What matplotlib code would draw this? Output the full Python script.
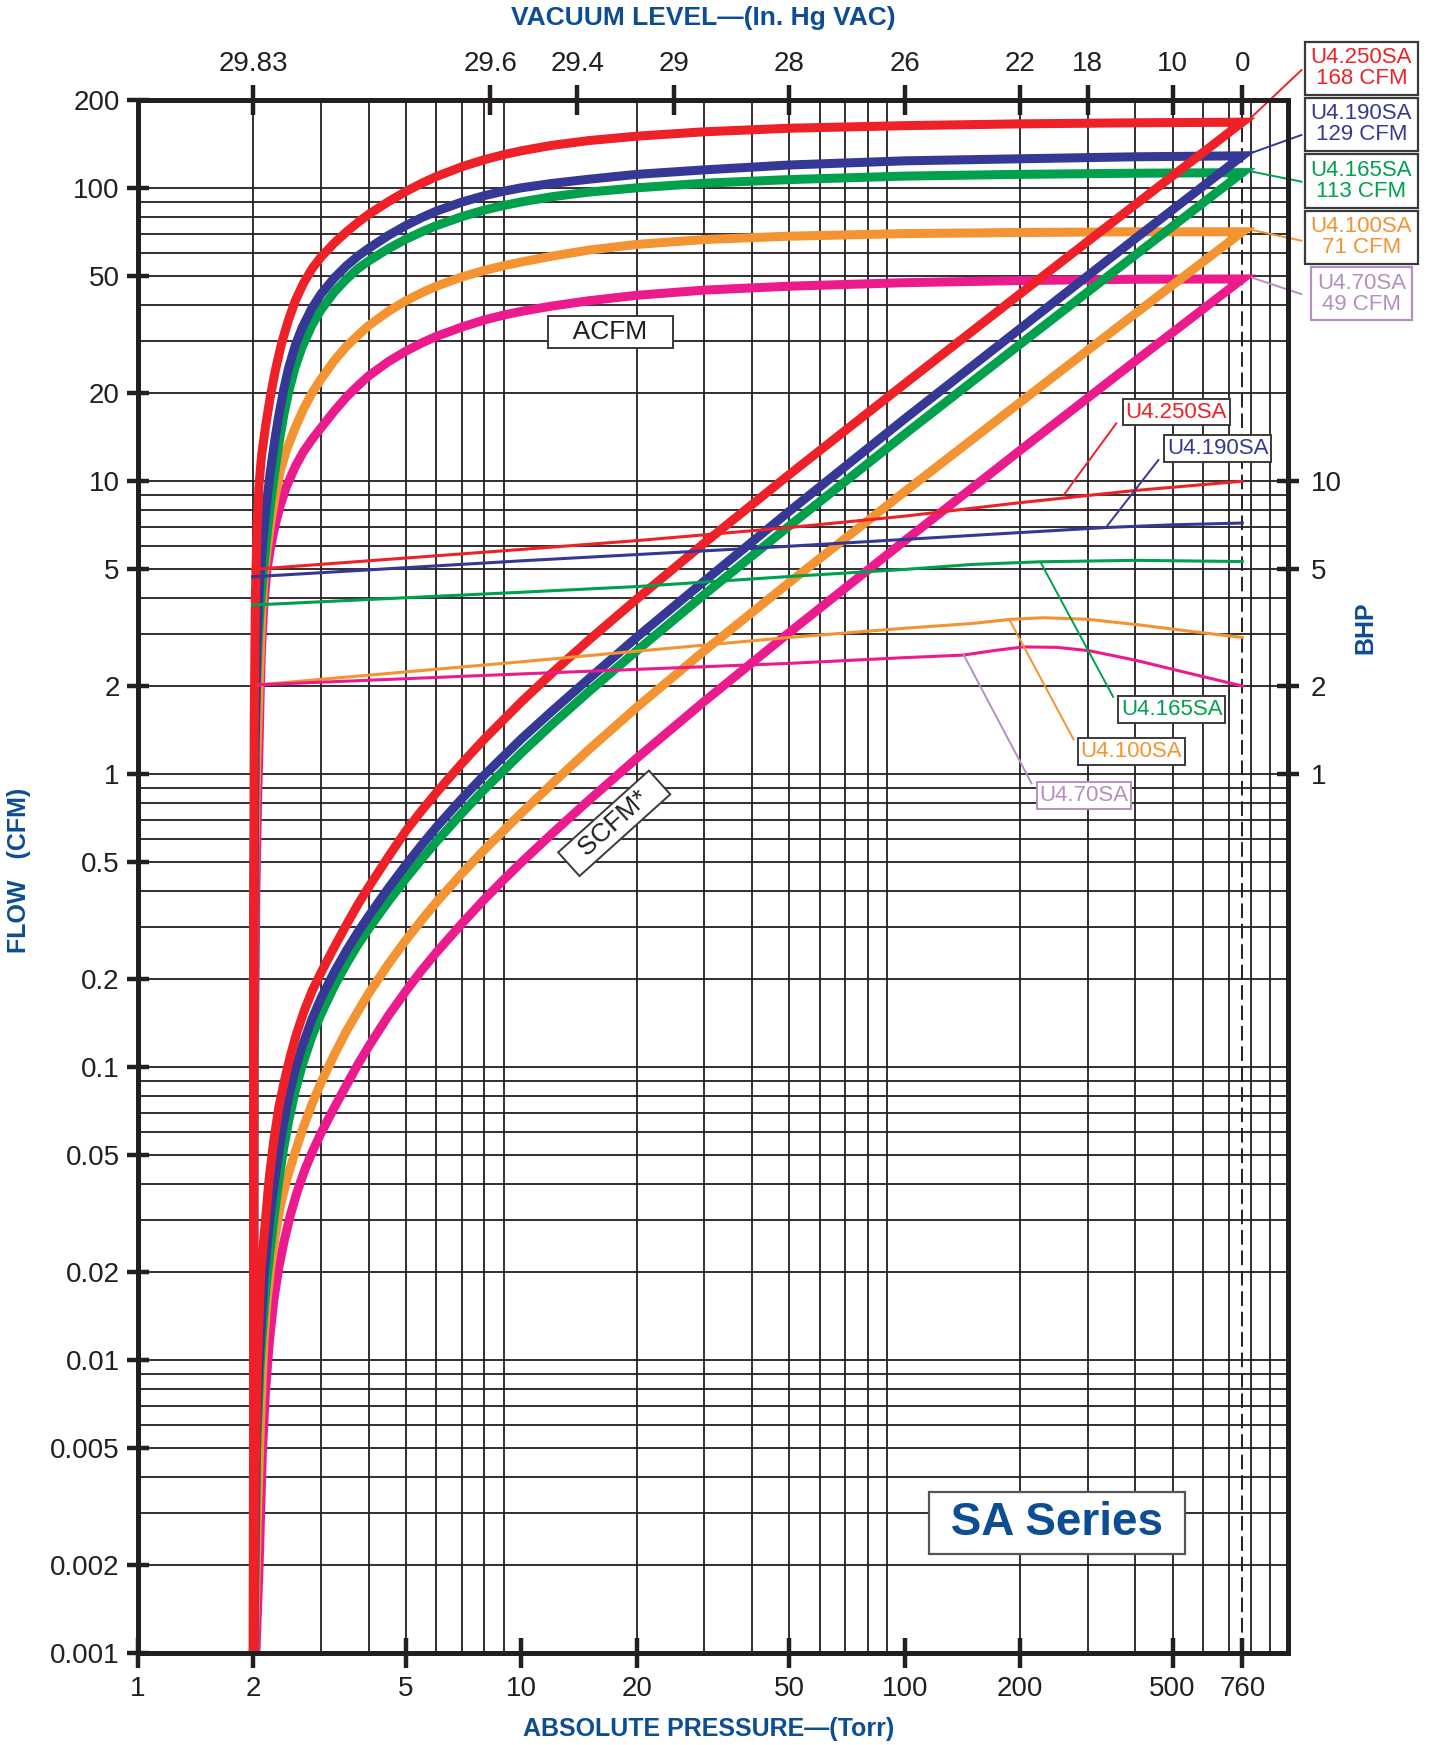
import numpy as np
import matplotlib
matplotlib.use('Agg')
import matplotlib.pyplot as plt
from matplotlib.ticker import NullLocator

plt.rcParams['font.family'] = ['Liberation Sans', 'DejaVu Sans']

INK = '#231f20'
TITLE_BLUE = '#0c4d93'

# ---- data --------------------------------------------------------------
models = ['U4.250SA', 'U4.190SA', 'U4.165SA', 'U4.100SA', 'U4.70SA']
rated_cfm = [168, 129, 113, 71, 49]
colors = ['#ed2127', '#363896', '#00a04d', '#f39331', '#ec1b8d']
text_colors = ['#ed2127', '#363896', '#00a04d', '#f39331', '#b58fc2']

# ACFM (actual flow) vs absolute pressure
acfm_p_250 = [2.0, 2.003, 2.01, 2.025, 2.045, 2.07, 2.1, 2.15, 2.21, 2.28, 2.37, 2.46, 2.57, 2.7, 2.85,
              3, 3.25, 3.5, 3.75, 4, 4.5, 5, 5.5, 6, 7, 8, 9, 10, 12, 15, 20, 30, 50, 100, 200, 400, 760]
acfm_250 = [0.001, 0.3, 1.5, 4.2, 7, 9.8, 12.2, 15.3, 19.2, 23.8, 29.6, 35, 41.2, 47.3, 53.3,
            58.2, 65, 71, 76.5, 81.5, 90, 97.5, 104, 109.6, 118.4, 125.1, 130.2, 134.2, 140, 145.4,
            150.5, 155.8, 160.2, 163.5, 165.8, 167.2, 168]
acfm_p_190 = [2.0, 2.005, 2.02, 2.04, 2.06, 2.08, 2.12, 2.16, 2.21, 2.27, 2.33, 2.4, 2.47, 2.57, 2.68, 2.84,
              3, 3.25, 3.5, 3.75, 4, 4.5, 5, 5.5, 6, 7, 8, 9, 10, 12, 15, 20, 30, 50, 100, 200, 400, 760]
acfm_190 = [0.001, 0.3, 1.3, 2.6, 3.7, 4.7, 6.4, 8.2, 10.6, 13.6, 16.8, 20.6, 24.3, 29.0, 33.4, 38.9,
            43.5, 49.4, 54.4, 58.7, 62.4, 69.0, 74.6, 79.4, 83.5, 89.7, 94.3, 97.7, 100.3, 103.8, 107.3,
            111.5, 115.5, 120, 124, 126, 128, 129]
acfm_p_165 = [2.0, 2.005, 2.02, 2.04, 2.06, 2.08, 2.12, 2.16, 2.21, 2.27, 2.33, 2.4, 2.47, 2.57, 2.68, 2.84,
              3, 3.25, 3.5, 3.75, 4, 4.5, 5, 5.5, 6, 7, 8, 9, 10, 12, 15, 20, 30, 50, 100, 200, 400, 760]
acfm_165 = [0.001, 0.3, 1.2, 2.1, 2.9, 3.6, 4.8, 6.2, 8.1, 10.6, 13.4, 16.8, 20.1, 24.5, 28.7, 34,
            38.4, 44.2, 49, 53.2, 56.5, 62.2, 67, 71, 74.5, 80, 84.2, 87.3, 89.8, 93.5, 97, 100.3,
            104, 107, 110, 111.5, 112.5, 113]
acfm_p_100 = [2.0, 2.005, 2.02, 2.04, 2.07, 2.1, 2.13, 2.17, 2.22, 2.28, 2.35, 2.44, 2.57, 2.7, 2.85,
              3, 3.25, 3.5, 3.75, 4, 4.5, 5, 5.5, 6, 7, 8, 9, 10, 12, 15, 20, 30, 50, 100, 200, 400, 760]
acfm_100 = [0.001, 0.2, 0.6, 1.1, 2.0, 3.4, 4.6, 5.8, 7.2, 8.9, 10.8, 12.8, 15.2, 17.6, 20.1,
            22.3, 25.8, 28.9, 31.5, 34.0, 38.0, 41.3, 44.0, 46.3, 49.8, 52.4, 54.4, 56, 58.6, 61.5,
            64.3, 66.8, 68.6, 70, 70.6, 71, 71]
acfm_p_70 = [2.0, 2.01, 2.03, 2.05, 2.07, 2.085, 2.1, 2.13, 2.17, 2.22, 2.28, 2.35, 2.44, 2.57, 2.7, 2.85,
             3, 3.25, 3.5, 3.75, 4, 4.5, 5, 5.5, 6, 7, 8, 9, 10, 12, 15, 20, 30, 50, 100, 200, 400, 760]
acfm_70 = [0.001, 0.1, 0.4, 0.8, 1.3, 2.0, 2.7, 3.8, 5.0, 6.0, 7.1, 8.26, 9.6, 11.2, 12.6, 13.95,
           15.2, 17.35, 19.4, 21.2, 22.9, 25.6, 27.8, 29.65, 31.2, 33.6, 35.5, 36.9, 38.0, 39.6, 41.3,
           43.1, 44.9, 46.3, 47.6, 48.4, 48.9, 49]

# SCFM (standard flow) vs absolute pressure
scfm_p_250 = [2.004, 2.02, 2.05, 2.09, 2.15, 2.2, 2.26, 2.33, 2.41, 2.5, 2.6, 2.72, 2.85, 3.0, 3.25, 3.5,
              3.75, 4, 4.5, 5, 5.5, 6, 7, 8, 10, 12, 15, 20, 30, 50, 100, 200, 400, 760]
scfm_250 = [0.001, 0.004, 0.01, 0.02, 0.03, 0.042, 0.056, 0.073, 0.09, 0.11, 0.132, 0.157, 0.183, 0.21,
            0.257, 0.307, 0.36, 0.413, 0.523, 0.641, 0.753, 0.865, 1.09, 1.317, 1.766, 2.21, 2.87, 3.96,
            6.15, 10.54, 21.5, 43.6, 88, 168]
scfm_p_190 = [2.005, 2.03, 2.07, 2.13, 2.17, 2.21, 2.27, 2.33, 2.4, 2.47, 2.57, 2.68, 2.84, 3.0, 3.25, 3.5,
              3.75, 4, 4.5, 5, 5.5, 6, 7, 8, 10, 12, 15, 20, 30, 50, 100, 200, 400, 760]
scfm_190 = [0.001, 0.005, 0.01, 0.019, 0.0245, 0.0308, 0.0406, 0.0515, 0.065, 0.079, 0.098, 0.1178, 0.1454,
            0.1717, 0.2113, 0.2505, 0.2896, 0.3284, 0.4086, 0.4908, 0.5746, 0.6592, 0.826, 0.9926, 1.32,
            1.639, 2.118, 2.934, 4.559, 7.895, 16.32, 33.16, 67.37, 129]
scfm_p_165 = [2.005, 2.04, 2.08, 2.12, 2.16, 2.21, 2.27, 2.33, 2.4, 2.47, 2.57, 2.68, 2.84, 3.0, 3.25, 3.5,
              3.75, 4, 4.5, 5, 5.5, 6, 7, 8, 10, 12, 15, 20, 30, 50, 100, 200, 400, 760]
scfm_165 = [0.001, 0.005, 0.0095, 0.0135, 0.018, 0.0236, 0.0317, 0.0411, 0.0531, 0.0653, 0.0828, 0.1012,
            0.1271, 0.1516, 0.189, 0.2257, 0.2625, 0.2974, 0.3683, 0.4408, 0.5138, 0.5882, 0.7368, 0.8863,
            1.182, 1.476, 1.914, 2.639, 4.105, 7.039, 14.47, 29.34, 59.21, 113]
scfm_p_100 = [2.01, 2.05, 2.09, 2.13, 2.17, 2.22, 2.28, 2.35, 2.44, 2.57, 2.7, 2.85, 3.0, 3.25, 3.5, 3.75,
              4, 4.5, 5, 5.5, 6, 7, 8, 10, 12, 15, 20, 30, 50, 100, 200, 400, 760]
scfm_100 = [0.001, 0.003, 0.0065, 0.0115, 0.0159, 0.0207, 0.0265, 0.0334, 0.0411, 0.0514, 0.0625, 0.0754,
            0.0885, 0.1103, 0.1331, 0.1554, 0.1789, 0.225, 0.2717, 0.3184, 0.3655, 0.4587, 0.5516, 0.7368,
            0.9253, 1.214, 1.692, 2.637, 4.513, 9.21, 18.58, 37.37, 71]
scfm_p_70 = [2.03, 2.07, 2.11, 2.15, 2.2, 2.26, 2.33, 2.41, 2.5, 2.6, 2.72, 2.85, 3.0, 3.25, 3.5, 3.75,
             4, 4.5, 5, 5.5, 6, 7, 8, 9, 10, 12, 15, 20, 30, 50, 100, 200, 400, 760]
scfm_70 = [0.001, 0.002, 0.0048, 0.0078, 0.0115, 0.016, 0.0208, 0.0258, 0.0315, 0.0375, 0.0445, 0.0515,
           0.0595, 0.0728, 0.087, 0.1025, 0.118, 0.15, 0.182, 0.2146, 0.2463, 0.3095, 0.3737, 0.437, 0.5,
           0.6253, 0.8151, 1.134, 1.772, 3.046, 6.263, 12.74, 25.74, 49]

# brake horsepower vs absolute pressure
bhp_p_250 = [1.99, 10, 20, 50, 100, 200, 400, 760]
bhp_250 = [5.0, 5.85, 6.27, 6.95, 7.6, 8.45, 9.3, 10.0]
bhp_p_190 = [1.99, 10, 20, 50, 100, 200, 335, 500, 760]
bhp_190 = [4.72, 5.35, 5.62, 6.0, 6.33, 6.68, 6.95, 7.1, 7.2]
bhp_p_165 = [1.99, 10, 20, 50, 100, 150, 226, 400, 760]
bhp_165 = [3.78, 4.18, 4.37, 4.73, 5.0, 5.2, 5.31, 5.37, 5.32]
bhp_p_100 = [2.07, 10, 20, 50, 100, 150, 190, 230, 300, 412, 550, 760]
bhp_100 = [2.02, 2.42, 2.63, 2.93, 3.15, 3.27, 3.38, 3.42, 3.38, 3.23, 3.08, 2.93]
bhp_p_70 = [2.07, 10, 20, 50, 100, 142, 170, 204, 250, 303, 400, 508, 760]
bhp_70 = [2.02, 2.2, 2.28, 2.39, 2.5, 2.55, 2.64, 2.72, 2.71, 2.64, 2.45, 2.27, 2.0]

# axis ticks
torr_ticks = [1, 2, 5, 10, 20, 50, 100, 200, 500, 760]
flow_ticks = [0.001, 0.002, 0.005, 0.01, 0.02, 0.05, 0.1, 0.2, 0.5, 1, 2, 5, 10, 20, 50, 100, 200]
flow_labels = ['0.001', '0.002', '0.005', '0.01', '0.02', '0.05', '0.1', '0.2', '0.5', '1', '2', '5', '10', '20', '50', '100', '200']
bhp_ticks = [1, 2, 5, 10]
vac_ticks_torr = [2, 8.3, 14, 25, 50, 100, 200, 300, 500, 760]
vac_labels = ['29.83', '29.6', '29.4', '29', '28', '26', '22', '18', '10', '0']

acfm_p = [acfm_p_250, acfm_p_190, acfm_p_165, acfm_p_100, acfm_p_70]
acfm = [acfm_250, acfm_190, acfm_165, acfm_100, acfm_70]
scfm_p = [scfm_p_250, scfm_p_190, scfm_p_165, scfm_p_100, scfm_p_70]
scfm = [scfm_250, scfm_190, scfm_165, scfm_100, scfm_70]
bhp_p = [bhp_p_250, bhp_p_190, bhp_p_165, bhp_p_100, bhp_p_70]
bhp = [bhp_250, bhp_190, bhp_165, bhp_100, bhp_70]

# ---- figure ----------------------------------------------------------------
fig = plt.figure(figsize=(14.4, 17.45), dpi=100)
ax = fig.add_axes([138 / 1440, 1 - 1653.3 / 1745, 1150 / 1440, 1553.3 / 1745])
ax.set_xscale('log')
ax.set_yscale('log')
ax.set_xlim(1, 1000)
ax.set_ylim(0.001, 200)

# chart paper grid
gx = [m * 10.0 ** e for e in range(0, 3) for m in range(2, 10)]
gy = [m * 10.0 ** e for e in range(-3, 3) for m in range(1, 10) if m * 10.0 ** e < 200]
ax.vlines(gx, 0.001, 200, colors=INK, lw=1.3, zorder=1)
ax.hlines(gy, 1, 1000, colors=INK, lw=1.3, zorder=1)
ax.axvline(760, color=INK, lw=1.4, ls=(0, (7.5, 3)), zorder=1)

# flow curves: ACFM up to 760 Torr, then SCFM back down
for i in range(len(models)):
    xs = list(acfm_p[i]) + list(scfm_p[i])[::-1]
    ys = list(acfm[i]) + list(scfm[i])[::-1]
    ax.plot(xs, ys, color=colors[i], lw=6.5, solid_joinstyle='miter',
            solid_capstyle='butt', zorder=7 - i)

for i in range(len(models)):
    ax.plot(bhp_p[i], bhp[i], color=colors[i], lw=2.2, zorder=9)

# ticks
ax.set_xticks(torr_ticks)
ax.set_xticklabels([str(t) for t in torr_ticks])
ax.set_yticks(flow_ticks)
ax.set_yticklabels(flow_labels)
ax.xaxis.set_minor_locator(NullLocator())
ax.yaxis.set_minor_locator(NullLocator())
ax.tick_params(axis='x', direction='inout', length=21, width=3.2, color=INK,
               labelsize=20, labelcolor=INK, pad=6)
ax.tick_params(axis='y', direction='inout', length=16.5, width=3.2, color=INK,
               labelsize=20, labelcolor=INK, pad=5)

axt = ax.twiny()
axt.set_xscale('log')
axt.set_xlim(1, 1000)
axt.set_xticks(vac_ticks_torr)
axt.set_xticklabels(vac_labels)
axt.xaxis.set_minor_locator(NullLocator())
axt.tick_params(axis='x', direction='inout', length=21, width=3.2, color=INK,
                labelsize=20, labelcolor=INK, pad=6)

axr = ax.twinx()
axr.set_yscale('log')
axr.set_ylim(0.001, 200)
axr.set_yticks(bhp_ticks)
axr.set_yticklabels([str(t) for t in bhp_ticks])
axr.yaxis.set_minor_locator(NullLocator())
axr.tick_params(axis='y', direction='inout', length=16.5, width=3.2, color=INK,
                labelsize=20, labelcolor=INK, pad=8)

for a in (ax, axt, axr):
    for s in a.spines.values():
        s.set_linewidth(3.6)
        s.set_color(INK)
axt.patch.set_visible(False)
axr.patch.set_visible(False)

# model labels on the right of the ACFM ends
box_pos_v = [257, 165, 105.8, 68.1, 43.7]
lead_start_v = [253, 151.9, 105.3, 66.2, 43.5]
lead_end_v = [175.4, 132.2, 113.9, 72, 49.5]
for i in range(len(models)):
    edge = '#b58fc2' if i == 4 else '#3a3a3a'
    ax.text(1555, box_pos_v[i], f'{models[i]}\n{rated_cfm[i]} CFM', color=text_colors[i],
            fontsize=16, ha='center', va='center', linespacing=1.0, zorder=12,
            bbox=dict(boxstyle='square,pad=0.25', fc='white', ec=edge, lw=1.6))
    ax.plot([1084, 806], [lead_start_v[i], lead_end_v[i]], color=text_colors[i],
            lw=1.4, clip_on=False, zorder=12)

# BHP curve labels
bhp_lab_xy = [(511.6, 17.2), (655.6, 12.94), (497.2, 1.665), (390.3, 1.196), (293.8, 0.847)]
bhp_lead = [((356.5, 15.76), (260.4, 9.0)), ((459, 11.81), (336, 6.99)),
            ((349.7, 1.838), (226.6, 5.27)), ((275.7, 1.315), (187.3, 3.38)),
            ((214.3, 0.931), (142.2, 2.57))]
for i in range(len(models)):
    edge = '#b58fc2' if i == 4 else '#3a3a3a'
    (x0, y0), (x1, y1) = bhp_lead[i]
    ax.plot([x0, x1], [y0, y1], color=text_colors[i], lw=1.4, zorder=10)
    ax.text(bhp_lab_xy[i][0], bhp_lab_xy[i][1], models[i], color=text_colors[i],
            fontsize=16, ha='center', va='center', zorder=11,
            bbox=dict(boxstyle='square,pad=0.12', fc='white', ec=edge, lw=1.4))

ax.text(17.1, 32.3, '   ACFM   ', fontsize=19, color=INK, ha='center', va='center', zorder=11,
        bbox=dict(boxstyle='square,pad=0.15', fc='white', ec='#3a3a3a', lw=1.4))
ax.text(17.47, 0.68, '  SCFM*  ', fontsize=19, color=INK, ha='center', va='center',
        rotation=42, rotation_mode='anchor', zorder=11,
        bbox=dict(boxstyle='square,pad=0.15', fc='white', ec='#3a3a3a', lw=1.4))
ax.text(249.8, 0.00279, ' SA Series ', fontsize=33, fontweight='bold', color=TITLE_BLUE,
        ha='center', va='center', zorder=11,
        bbox=dict(boxstyle='square,pad=0.2', fc='white', ec='#555555', lw=1.6))

# axis titles
fig.text(0.4882, 0.9897, 'VACUUM LEVEL\u2014(In. Hg VAC)', fontsize=19, fontweight='bold',
         color=TITLE_BLUE, ha='center', va='center')
fig.text(0.4924, 0.0092, 'ABSOLUTE PRESSURE\u2014(Torr)', fontsize=18, fontweight='bold',
         color=TITLE_BLUE, ha='center', va='center')
fig.text(0.0131, 0.5014, 'FLOW   (CFM)', fontsize=18, fontweight='bold', color=TITLE_BLUE,
         ha='center', va='center', rotation=90)
fig.text(0.9483, 0.6402, 'BHP', fontsize=18, fontweight='bold', color=TITLE_BLUE,
         ha='center', va='center', rotation=90)

fig.savefig('out.png', dpi=100, facecolor='white')
